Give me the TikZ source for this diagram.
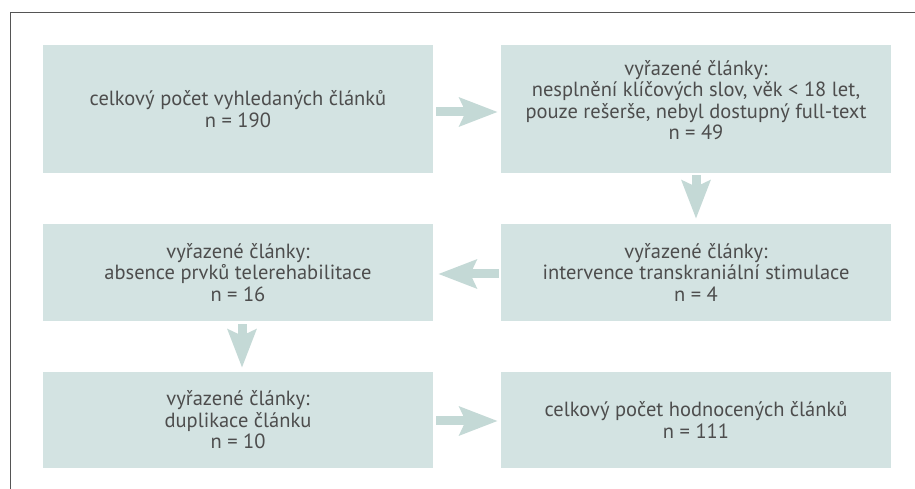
\documentclass[tikz,border=0pt]{standalone}
\usepackage{fontspec}
\setmainfont{PT Sans}
\newfontfamily\boxfont{PT Sans}[Scale=2.05]
\usetikzlibrary{arrows.meta}
\definecolor{boxfill}{HTML}{D3E3E2}
\definecolor{arrfill}{HTML}{C4D9D6}
\definecolor{txt}{HTML}{4D4D4D}
\definecolor{frame}{HTML}{555555}
\tikzset{
  flowbox/.style={fill=boxfill, draw=none, minimum width=390pt, align=center, text=txt,
    font={\fontsize{10}{21.5}\selectfont\boxfont}, inner sep=0pt},
  flowarrow/.style={draw=arrfill, line width=9pt,
    -{Stealth[length=38pt, width=28pt, inset=6pt, fill=arrfill]}}
}
\begin{document}
\begin{tikzpicture}[x=1pt,y=1pt]
\useasboundingbox (0,0) rectangle (915,489);
\fill[white] (0,0) rectangle (915,489);
\draw[frame, line width=1pt] (915,476) -- (10,476) -- (10,0);

\node[flowbox, minimum height=128pt] (b1) at (238,380) {celkový počet vyhledaných článků\\n = 190};
\node[flowbox, minimum height=128pt, text depth=18pt] (b2) at (696,380) {vyřazené články:\\nesplnění klíčových slov, věk < 18 let,\\pouze rešerše, nebyl dostupný full-text\\n = 49};
\node[flowbox, minimum height=97pt] (b3) at (238,216.5) {vyřazené články:\\absence prvků telerehabilitace\\n = 16};
\node[flowbox, minimum height=97pt] (b4) at (696,216.5) {vyřazené články:\\intervence transkraniální stimulace\\n = 4};
\node[flowbox, minimum height=96pt] (b5) at (238,69) {vyřazené články:\\duplikace článku\\n = 10};
\node[flowbox, minimum height=96pt] (b6) at (696,69) {celkový počet hodnocených článků\\n = 111};

\draw[flowarrow, shorten <=3pt, shorten >=3pt] ([yshift=-3pt]b1.east) -- ([yshift=-3pt]b2.west);
\draw[flowarrow, shorten <=2pt, shorten >=5pt] (b2.south) -- (b4.north);
\draw[flowarrow, shorten <=2pt, shorten >=5pt] ([yshift=-1.5pt]b4.west) -- ([yshift=-1.5pt]b3.east);
\draw[flowarrow, shorten <=3pt, shorten >=4pt] ([xshift=4pt]b3.south) -- ([xshift=4pt]b5.north);
\draw[flowarrow, shorten <=3pt, shorten >=3pt] ([yshift=-1pt]b5.east) -- ([yshift=-1pt]b6.west);
\end{tikzpicture}
\end{document}
